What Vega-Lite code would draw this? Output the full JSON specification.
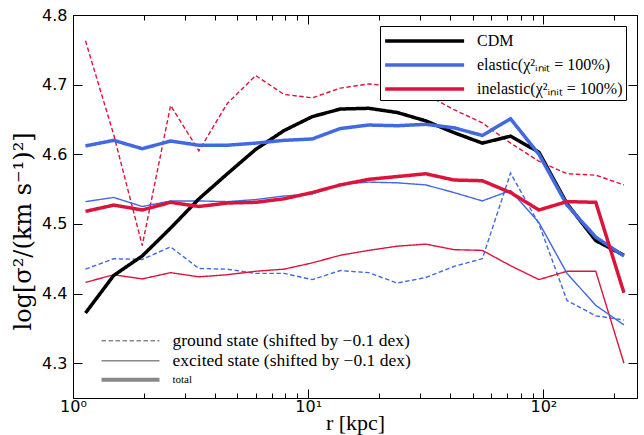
{
  "$schema": "https://vega.github.io/schema/vega-lite/v6.json",
  "width": 564,
  "height": 383,
  "autosize": {"type": "none"},
  "padding": {"left": 73, "top": 15, "right": 7, "bottom": 37},
  "config": {
    "view": {"stroke": "black", "strokeWidth": 1},
    "axis": {"domainColor": "black", "tickColor": "black", "labelColor": "black", "labelFont": "DejaVu Sans", "labelFontSize": 16, "grid": false, "titleColor": "black", "titleFontWeight": "normal"}
  },
  "data": {"values": [
    {"m":"inelastic","s":"ground","r":1.13,"v":4.763},{"m":"inelastic","s":"ground","r":1.49,"v":4.628},{"m":"inelastic","s":"ground","r":1.97,"v":4.469},{"m":"inelastic","s":"ground","r":2.60,"v":4.670},{"m":"inelastic","s":"ground","r":3.43,"v":4.605},{"m":"inelastic","s":"ground","r":4.53,"v":4.673},{"m":"inelastic","s":"ground","r":5.98,"v":4.713},{"m":"inelastic","s":"ground","r":7.89,"v":4.686},{"m":"inelastic","s":"ground","r":10.4,"v":4.681},{"m":"inelastic","s":"ground","r":13.7,"v":4.695},{"m":"inelastic","s":"ground","r":18.1,"v":4.701},{"m":"inelastic","s":"ground","r":23.9,"v":4.697},{"m":"inelastic","s":"ground","r":31.6,"v":4.686},{"m":"inelastic","s":"ground","r":41.7,"v":4.664},{"m":"inelastic","s":"ground","r":55.0,"v":4.645},{"m":"inelastic","s":"ground","r":72.5,"v":4.616},{"m":"inelastic","s":"ground","r":95.7,"v":4.590},{"m":"inelastic","s":"ground","r":126,"v":4.572},{"m":"inelastic","s":"ground","r":167,"v":4.570},{"m":"inelastic","s":"ground","r":220,"v":4.556},
    {"m":"elastic","s":"ground","r":1.13,"v":4.435},{"m":"elastic","s":"ground","r":1.49,"v":4.450},{"m":"elastic","s":"ground","r":1.97,"v":4.449},{"m":"elastic","s":"ground","r":2.60,"v":4.467},{"m":"elastic","s":"ground","r":3.43,"v":4.436},{"m":"elastic","s":"ground","r":4.53,"v":4.435},{"m":"elastic","s":"ground","r":5.98,"v":4.429},{"m":"elastic","s":"ground","r":7.89,"v":4.429},{"m":"elastic","s":"ground","r":10.4,"v":4.420},{"m":"elastic","s":"ground","r":13.7,"v":4.433},{"m":"elastic","s":"ground","r":18.1,"v":4.430},{"m":"elastic","s":"ground","r":23.9,"v":4.415},{"m":"elastic","s":"ground","r":31.6,"v":4.423},{"m":"elastic","s":"ground","r":41.7,"v":4.439},{"m":"elastic","s":"ground","r":55.0,"v":4.450},{"m":"elastic","s":"ground","r":72.5,"v":4.573},{"m":"elastic","s":"ground","r":95.7,"v":4.500},{"m":"elastic","s":"ground","r":126,"v":4.390},{"m":"elastic","s":"ground","r":167,"v":4.368},{"m":"elastic","s":"ground","r":220,"v":4.362},
    {"m":"inelastic","s":"excited","r":1.13,"v":4.416},{"m":"inelastic","s":"excited","r":1.49,"v":4.427},{"m":"inelastic","s":"excited","r":1.97,"v":4.421},{"m":"inelastic","s":"excited","r":2.60,"v":4.430},{"m":"inelastic","s":"excited","r":3.43,"v":4.424},{"m":"inelastic","s":"excited","r":4.53,"v":4.427},{"m":"inelastic","s":"excited","r":5.98,"v":4.432},{"m":"inelastic","s":"excited","r":7.89,"v":4.435},{"m":"inelastic","s":"excited","r":10.4,"v":4.444},{"m":"inelastic","s":"excited","r":13.7,"v":4.455},{"m":"inelastic","s":"excited","r":18.1,"v":4.462},{"m":"inelastic","s":"excited","r":23.9,"v":4.468},{"m":"inelastic","s":"excited","r":31.6,"v":4.471},{"m":"inelastic","s":"excited","r":41.7,"v":4.463},{"m":"inelastic","s":"excited","r":55.0,"v":4.462},{"m":"inelastic","s":"excited","r":72.5,"v":4.440},{"m":"inelastic","s":"excited","r":95.7,"v":4.420},{"m":"inelastic","s":"excited","r":126,"v":4.432},{"m":"inelastic","s":"excited","r":167,"v":4.432},{"m":"inelastic","s":"excited","r":220,"v":4.300},
    {"m":"elastic","s":"excited","r":1.13,"v":4.532},{"m":"elastic","s":"excited","r":1.49,"v":4.538},{"m":"elastic","s":"excited","r":1.97,"v":4.525},{"m":"elastic","s":"excited","r":2.60,"v":4.533},{"m":"elastic","s":"excited","r":3.43,"v":4.533},{"m":"elastic","s":"excited","r":4.53,"v":4.532},{"m":"elastic","s":"excited","r":5.98,"v":4.535},{"m":"elastic","s":"excited","r":7.89,"v":4.540},{"m":"elastic","s":"excited","r":10.4,"v":4.543},{"m":"elastic","s":"excited","r":13.7,"v":4.557},{"m":"elastic","s":"excited","r":18.1,"v":4.560},{"m":"elastic","s":"excited","r":23.9,"v":4.559},{"m":"elastic","s":"excited","r":31.6,"v":4.556},{"m":"elastic","s":"excited","r":41.7,"v":4.545},{"m":"elastic","s":"excited","r":55.0,"v":4.533},{"m":"elastic","s":"excited","r":72.5,"v":4.548},{"m":"elastic","s":"excited","r":95.7,"v":4.502},{"m":"elastic","s":"excited","r":126,"v":4.429},{"m":"elastic","s":"excited","r":167,"v":4.383},{"m":"elastic","s":"excited","r":220,"v":4.355},
    {"m":"CDM","s":"total","r":1.13,"v":4.372},{"m":"CDM","s":"total","r":1.49,"v":4.426},{"m":"CDM","s":"total","r":1.97,"v":4.454},{"m":"CDM","s":"total","r":2.60,"v":4.494},{"m":"CDM","s":"total","r":3.43,"v":4.536},{"m":"CDM","s":"total","r":4.53,"v":4.572},{"m":"CDM","s":"total","r":5.98,"v":4.607},{"m":"CDM","s":"total","r":7.89,"v":4.634},{"m":"CDM","s":"total","r":10.4,"v":4.654},{"m":"CDM","s":"total","r":13.7,"v":4.665},{"m":"CDM","s":"total","r":18.1,"v":4.666},{"m":"CDM","s":"total","r":23.9,"v":4.660},{"m":"CDM","s":"total","r":31.6,"v":4.648},{"m":"CDM","s":"total","r":41.7,"v":4.631},{"m":"CDM","s":"total","r":55.0,"v":4.616},{"m":"CDM","s":"total","r":72.5,"v":4.626},{"m":"CDM","s":"total","r":95.7,"v":4.603},{"m":"CDM","s":"total","r":126,"v":4.529},{"m":"CDM","s":"total","r":167,"v":4.476},{"m":"CDM","s":"total","r":220,"v":4.455},
    {"m":"elastic","s":"total","r":1.13,"v":4.612},{"m":"elastic","s":"total","r":1.49,"v":4.620},{"m":"elastic","s":"total","r":1.97,"v":4.608},{"m":"elastic","s":"total","r":2.60,"v":4.619},{"m":"elastic","s":"total","r":3.43,"v":4.613},{"m":"elastic","s":"total","r":4.53,"v":4.613},{"m":"elastic","s":"total","r":5.98,"v":4.616},{"m":"elastic","s":"total","r":7.89,"v":4.620},{"m":"elastic","s":"total","r":10.4,"v":4.622},{"m":"elastic","s":"total","r":13.7,"v":4.637},{"m":"elastic","s":"total","r":18.1,"v":4.642},{"m":"elastic","s":"total","r":23.9,"v":4.641},{"m":"elastic","s":"total","r":31.6,"v":4.643},{"m":"elastic","s":"total","r":41.7,"v":4.638},{"m":"elastic","s":"total","r":55.0,"v":4.627},{"m":"elastic","s":"total","r":72.5,"v":4.651},{"m":"elastic","s":"total","r":95.7,"v":4.600},{"m":"elastic","s":"total","r":126,"v":4.527},{"m":"elastic","s":"total","r":167,"v":4.481},{"m":"elastic","s":"total","r":220,"v":4.454},
    {"m":"inelastic","s":"total","r":1.13,"v":4.518},{"m":"inelastic","s":"total","r":1.49,"v":4.527},{"m":"inelastic","s":"total","r":1.97,"v":4.520},{"m":"inelastic","s":"total","r":2.60,"v":4.531},{"m":"inelastic","s":"total","r":3.43,"v":4.525},{"m":"inelastic","s":"total","r":4.53,"v":4.530},{"m":"inelastic","s":"total","r":5.98,"v":4.531},{"m":"inelastic","s":"total","r":7.89,"v":4.536},{"m":"inelastic","s":"total","r":10.4,"v":4.545},{"m":"inelastic","s":"total","r":13.7,"v":4.556},{"m":"inelastic","s":"total","r":18.1,"v":4.564},{"m":"inelastic","s":"total","r":23.9,"v":4.568},{"m":"inelastic","s":"total","r":31.6,"v":4.572},{"m":"inelastic","s":"total","r":41.7,"v":4.563},{"m":"inelastic","s":"total","r":55.0,"v":4.562},{"m":"inelastic","s":"total","r":72.5,"v":4.545},{"m":"inelastic","s":"total","r":95.7,"v":4.520},{"m":"inelastic","s":"total","r":126,"v":4.532},{"m":"inelastic","s":"total","r":167,"v":4.531},{"m":"inelastic","s":"total","r":220,"v":4.401}
  ]},
  "layer": [
    {
      "mark": {"type": "line", "clip": true},
      "encoding": {
        "x": {"field": "r", "type": "quantitative",
          "scale": {"type": "log", "domain": [1, 250], "nice": false},
          "axis": {"orient": "bottom", "title": "r [kpc]", "titleFont": "Liberation Serif", "titleFontSize": 22, "titlePadding": -6,
            "values": [1,2,3,4,5,6,7,8,9,10,20,30,40,50,60,70,80,90,100,200],
            "labelExpr": "datum.value == 1 ? '10⁰' : datum.value == 10 ? '10¹' : datum.value == 100 ? '10²' : ''",
            "tickSize": {"condition": {"test": "datum.value == 1 || datum.value == 10 || datum.value == 100", "value": -9}, "value": -5},
            "labelPadding": 9, "labelFlush": false, "labelOverlap": false}},
        "y": {"field": "v", "type": "quantitative",
          "scale": {"domain": [4.25, 4.8], "nice": false, "zero": false},
          "axis": {"orient": "left", "title": "log[σ²/(km s⁻¹)²]", "titleFont": "DejaVu Serif", "titleFontSize": 24, "titlePadding": 6,
            "titleAlign": "left", "titleY": 315,
            "values": [4.3, 4.4, 4.5, 4.6, 4.7, 4.8], "format": ".1f", "tickSize": -9, "labelPadding": 15}},
        "color": {"field": "m", "type": "nominal",
          "scale": {"domain": ["CDM", "elastic", "inelastic"], "range": ["#000000", "#4169E1", "#DC143C"]},
          "legend": {"orient": "top-right", "offset": 11, "title": null,
            "labelExpr": "datum.label == 'CDM' ? 'CDM' : datum.label == 'elastic' ? 'elastic(χ²ᵢₙᵢₜ = 100%)' : 'inelastic(χ²ᵢₙᵢₜ = 100%)'",
            "symbolType": "M-1,0H7", "symbolStrokeWidth": 3.5, "symbolSize": 390, "labelFont": "Liberation Serif", "labelFontSize": 16, "labelColor": "black",
            "strokeColor": "black", "fillColor": "white", "padding": 3, "rowPadding": 4, "labelOffset": 70, "labelLimit": 400}},
        "strokeDash": {"field": "s", "type": "nominal",
          "scale": {"domain": ["ground", "excited", "total"], "range": [[4.5, 2.5], [1, 0], [1, 0]]},
          "legend": {"orient": "none", "legendX": 27, "legendY": 317, "title": null,
            "labelExpr": "datum.label == 'ground' ? 'ground state (shifted by −0.1 dex)' : datum.label == 'excited' ? 'excited state (shifted by −0.1 dex)' : 'total'",
            "symbolType": "M-1,0H7", "symbolSize": 210, "symbolStrokeColor": "#888888",
            "symbolStrokeWidth": {"expr": "datum.value == 'total' ? 4 : 1.6"},
            "labelFont": "Liberation Serif",
            "labelFontSize": {"expr": "datum.label == 'total' ? 11 : 17.5"}, "labelColor": "black", "padding": 0, "rowPadding": 1, "labelOffset": 55, "labelLimit": 400}},
        "strokeWidth": {"condition": {"test": "datum.s == 'total'", "value": 3.5}, "value": 1.4}
      }
    },
    {
      "mark": {"type": "point", "opacity": 0},
      "encoding": {
        "x": {"field": "r", "type": "quantitative",
          "axis": {"orient": "top", "title": null, "labels": false,
            "values": [1,2,3,4,5,6,7,8,9,10,20,30,40,50,60,70,80,90,100,200],
            "tickSize": {"condition": {"test": "datum.value == 1 || datum.value == 10 || datum.value == 100", "value": -9}, "value": -5}}},
        "y": {"field": "v", "type": "quantitative",
          "axis": {"orient": "right", "title": null, "labels": false, "values": [4.3, 4.4, 4.5, 4.6, 4.7, 4.8], "tickSize": -9}}
      }
    }
  ],
  "resolve": {"axis": {"x": "independent", "y": "independent"}}
}
